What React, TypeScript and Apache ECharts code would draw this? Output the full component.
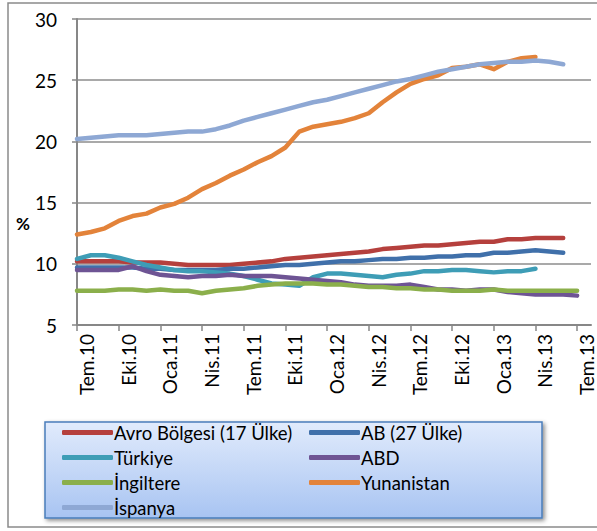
import React, { useEffect, useRef } from "react";
import * as echarts from "echarts";

const categories = [
  "Tem.10", "Ağu.10", "Eyl.10", "Eki.10", "Kas.10", "Ara.10",
  "Oca.11", "Şub.11", "Mar.11", "Nis.11", "May.11", "Haz.11",
  "Tem.11", "Ağu.11", "Eyl.11", "Eki.11", "Kas.11", "Ara.11",
  "Oca.12", "Şub.12", "Mar.12", "Nis.12", "May.12", "Haz.12",
  "Tem.12", "Ağu.12", "Eyl.12", "Eki.12", "Kas.12", "Ara.12",
  "Oca.13", "Şub.13", "Mar.13", "Nis.13", "May.13", "Haz.13",
  "Tem.13", "Ağu.13",
];

const avro = [10.2, 10.2, 10.2, 10.2, 10.1, 10.1, 10.1, 10.0, 9.9, 9.9, 9.9, 9.9,
  10.0, 10.1, 10.2, 10.4, 10.5, 10.6, 10.7, 10.8, 10.9, 11.0, 11.2, 11.3,
  11.4, 11.5, 11.5, 11.6, 11.7, 11.8, 11.8, 12.0, 12.0, 12.1, 12.1, 12.1];
const ab27 = [9.7, 9.7, 9.7, 9.7, 9.7, 9.6, 9.6, 9.5, 9.5, 9.5, 9.5, 9.6,
  9.6, 9.7, 9.8, 9.9, 9.9, 10.0, 10.1, 10.2, 10.2, 10.3, 10.4, 10.4,
  10.5, 10.5, 10.6, 10.6, 10.7, 10.7, 10.9, 10.9, 11.0, 11.1, 11.0, 10.9];
const turkiye = [10.4, 10.7, 10.7, 10.5, 10.2, 9.9, 9.7, 9.5, 9.4, 9.4, 9.3, 9.2,
  9.0, 8.7, 8.4, 8.3, 8.2, 8.9, 9.2, 9.2, 9.1, 9.0, 8.9, 9.1,
  9.2, 9.4, 9.4, 9.5, 9.5, 9.4, 9.3, 9.4, 9.4, 9.6];
const abd = [9.5, 9.5, 9.5, 9.5, 9.8, 9.4, 9.1, 9.0, 8.9, 9.0, 9.0, 9.1,
  9.0, 9.0, 9.0, 8.9, 8.8, 8.7, 8.6, 8.5, 8.3, 8.2, 8.2, 8.2,
  8.3, 8.1, 7.9, 7.9, 7.8, 7.9, 7.9, 7.7, 7.6, 7.5, 7.5, 7.5, 7.4];
const ingiltere = [7.8, 7.8, 7.8, 7.9, 7.9, 7.8, 7.9, 7.8, 7.8, 7.6, 7.8, 7.9,
  8.0, 8.2, 8.3, 8.4, 8.4, 8.4, 8.3, 8.3, 8.2, 8.1, 8.1, 8.0,
  8.0, 7.9, 7.9, 7.8, 7.8, 7.8, 7.9, 7.8, 7.8, 7.8, 7.8, 7.8, 7.8];
const yunanistan = [12.4, 12.6, 12.9, 13.5, 13.9, 14.1, 14.6, 14.9, 15.4, 16.1, 16.6, 17.2,
  17.7, 18.3, 18.8, 19.5, 20.8, 21.2, 21.4, 21.6, 21.9, 22.3, 23.2, 24.0,
  24.7, 25.1, 25.4, 26.0, 26.1, 26.3, 25.9, 26.5, 26.8, 26.9];
const ispanya = [20.2, 20.3, 20.4, 20.5, 20.5, 20.5, 20.6, 20.7, 20.8, 20.8, 21.0, 21.3,
  21.7, 22.0, 22.3, 22.6, 22.9, 23.2, 23.4, 23.7, 24.0, 24.3, 24.6, 24.9,
  25.1, 25.4, 25.7, 25.9, 26.1, 26.3, 26.4, 26.5, 26.5, 26.6, 26.5, 26.3];

const yTicks = { min: 5, max: 30, interval: 5 };

const seriesDefs = [
  { name: "Avro Bölgesi (17 Ülke)", data: avro, color: "#B5403D" },
  { name: "AB (27 Ülke)", data: ab27, color: "#4070AA" },
  { name: "Türkiye", data: turkiye, color: "#3E9DB6" },
  { name: "ABD", data: abd, color: "#6E5494" },
  { name: "İngiltere", data: ingiltere, color: "#8BAF4B" },
  { name: "Yunanistan", data: yunanistan, color: "#E3833A" },
  { name: "İspanya", data: ispanya, color: "#8EA8D4" },
];

const legendCol1 = ["Avro Bölgesi (17 Ülke)", "Türkiye", "İngiltere", "İspanya"];
const legendCol2 = ["AB (27 Ülke)", "ABD", "Yunanistan"];

const FONT = "Lato";

export default function App() {
  const ref = useRef<HTMLDivElement>(null);
  useEffect(() => {
    document.body.style.margin = "0";
    if (!ref.current) return;
    const chart = echarts.init(ref.current, null, { renderer: "svg" });
    const legendCommon = {
      orient: "vertical",
      top: 418,
      itemWidth: 51,
      itemHeight: 5,
      itemGap: 6,
      icon: "roundRect",
      selectedMode: false,
      textStyle: { fontFamily: FONT, fontSize: 18.5, color: "#000", lineHeight: 19, padding: [0, 0, 0, -4] },
      z: 10,
    };
    chart.setOption({
      animation: false,
      backgroundColor: "#ffffff",
      textStyle: { fontFamily: FONT },
      grid: { left: 77, right: 6, top: 19, bottom: 206, containLabel: false },
      graphic: [
        {
          type: "rect",
          shape: { x: 8, y: 3, width: 600, height: 524 },
          style: { fill: "none", stroke: "#8a8a8a", lineWidth: 1.5 },
          z: 0,
          silent: true,
        },
        {
          type: "rect",
          shape: { x: 45, y: 422, width: 497, height: 96 },
          style: {
            fill: new echarts.graphic.LinearGradient(0, 0, 0, 1, [
              { offset: 0, color: "#e1ebfc" },
              { offset: 1, color: "#a8c4f2" },
            ]),
            stroke: "#4a7ebb",
            lineWidth: 1.5,
            shadowBlur: 4,
            shadowOffsetX: 2,
            shadowOffsetY: 2,
            shadowColor: "rgba(0,0,0,0.45)",
          },
          z: 1,
          silent: true,
        },
        {
          type: "text",
          x: 16,
          y: 215,
          style: { text: "%", font: `bold 17px ${FONT}`, fill: "#000" },
          z: 5,
        },
      ],
      legend: [
        { ...legendCommon, left: 57, data: legendCol1 },
        { ...legendCommon, left: 304, data: legendCol2 },
      ],
      xAxis: {
        type: "category",
        data: categories,
        boundaryGap: false,
        axisLine: { show: true, lineStyle: { color: "#878787", width: 2 } },
        axisTick: { show: true, interval: 2, length: 6, lineStyle: { color: "#878787", width: 1.5 } },
        axisLabel: {
          interval: 2,
          rotate: 90,
          margin: 9,
          fontSize: 19,
          fontFamily: FONT,
          color: "#000",
          verticalAlign: "top",
        },
        splitLine: { show: false },
      },
      yAxis: {
        type: "value",
        min: yTicks.min,
        max: yTicks.max,
        interval: yTicks.interval,
        axisLine: { show: true, lineStyle: { color: "#878787", width: 2 } },
        axisTick: { show: true, length: 5, lineStyle: { color: "#878787", width: 1.5 } },
        axisLabel: { fontSize: 19, fontFamily: FONT, color: "#000", margin: 20 },
        splitLine: { show: true, lineStyle: { color: "#8c8c8c", width: 1.5 } },
      },
      series: seriesDefs.map((s) => ({
        name: s.name,
        type: "line",
        data: s.data,
        symbol: "none",
        smooth: false,
        color: s.color,
        itemStyle: { color: s.color },
        lineStyle: { color: s.color, width: 4.5, cap: "round", join: "round" },
      })),
    });
    return () => chart.dispose();
  }, []);
  return <div ref={ref} style={{ width: 597, height: 531 }} />;
}
